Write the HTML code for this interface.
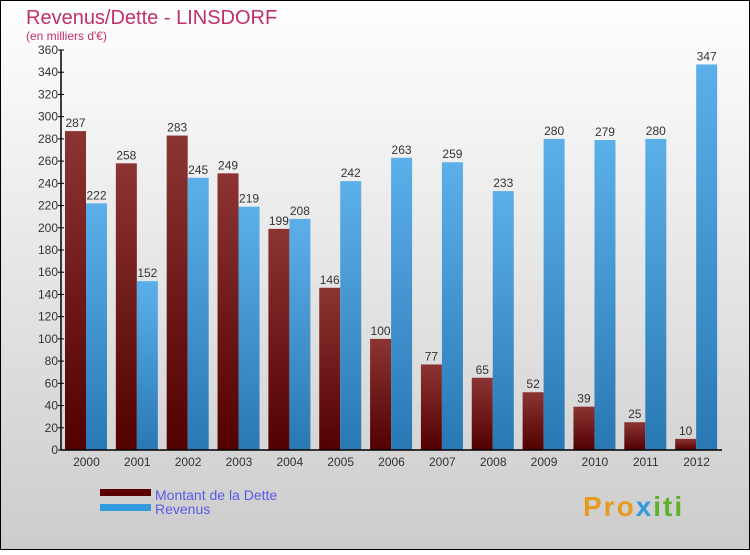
<!DOCTYPE html>
<html><head><meta charset="utf-8"><style>
html,body{margin:0;padding:0}
body{width:750px;height:550px;overflow:hidden;font-family:"Liberation Sans",sans-serif}
</style></head><body>
<svg id="chart" width="750" height="550" xmlns="http://www.w3.org/2000/svg">
<defs>
<linearGradient id="bg" x1="0" y1="0" x2="0" y2="1"><stop offset="0" stop-color="#ffffff"/><stop offset="1" stop-color="#cccccc"/></linearGradient>
<linearGradient id="gd" x1="0" y1="0" x2="0" y2="1"><stop offset="0" stop-color="#8c3434"/><stop offset="1" stop-color="#520000"/></linearGradient>
<linearGradient id="gr" x1="0" y1="0" x2="0" y2="1"><stop offset="0" stop-color="#5cb0ea"/><stop offset="1" stop-color="#2878b4"/></linearGradient>
</defs>
<rect x="0.5" y="0.5" width="749" height="549" fill="url(#bg)" stroke="#000"/>
<text x="26" y="24" font-size="20" fill="#c0306a">Revenus/Dette - LINSDORF</text>
<text x="26" y="40" font-size="12" fill="#c0306a">(en milliers d'€)</text>
<g id="plot"></g>
<g>
<rect x="100" y="489" width="51" height="7" fill="#5a0000"/>
<text x="155" y="500" font-size="14" fill="#5a5ae8">Montant de la Dette</text>
<rect x="100" y="504" width="51" height="7" fill="#3399dd"/>
<text x="155" y="514" font-size="14" fill="#5a5ae8">Revenus</text>
</g>
<text x="583" y="516" font-size="28" font-weight="bold" letter-spacing="2" fill="#e89a20">Pro<tspan fill="#3399dd">x</tspan><tspan fill="#60b030">iti</tspan></text>
</svg>
<script>
const years=["2000","2001","2002","2003","2004","2005","2006","2007","2008","2009","2010","2011","2012"];
const debt=[287,258,283,249,199,146,100,77,65,52,39,25,10];
const revenue=[222,152,245,219,208,242,263,259,233,280,279,280,347];
const yTicks=[0,20,40,60,80,100,120,140,160,180,200,220,240,260,280,300,320,340,360];
const NS="http://www.w3.org/2000/svg";
const g=document.getElementById('plot');
const x0=61,x1=722,yTop=50,yBot=450,yMax=360;
const y=v=>yBot-(v/yMax)*(yBot-yTop);
const gw=(x1-x0)/years.length;
const bx=i=>x0+i*gw;
function mk(t,a,txt){const e=document.createElementNS(NS,t);for(const k in a)e.setAttribute(k,a[k]);if(txt!==undefined)e.textContent=txt;g.appendChild(e);return e;}
years.forEach((yr,i)=>{
  const b=bx(i);
  let e=mk('rect',{x:b+4,y:y(debt[i]),width:21,height:yBot-y(debt[i]),fill:'url(#gd)'});
  
  
  e=mk('rect',{x:b+25,y:y(revenue[i]),width:21,height:yBot-y(revenue[i]),fill:'url(#gr)'});
  
  
  e=mk('text',{x:b+14.5,y:y(debt[i])-4,'font-size':12,fill:'#333','text-anchor':'middle'},String(debt[i]));
  
  
  e=mk('text',{x:b+35.5,y:y(revenue[i])-4,'font-size':12,fill:'#333','text-anchor':'middle'},String(revenue[i]));
  
  
  e=mk('text',{x:b+gw/2,y:466,'font-size':12,fill:'#333','text-anchor':'middle'},yr);
  
  
});
yTicks.forEach(t=>{
  let e=mk('line',{x1:x0-3,x2:x0+3,y1:y(t),y2:y(t),stroke:'#000'});
  
  
  e=mk('text',{x:x0-3,y:y(t)+4,'font-size':12,fill:'#333','text-anchor':'end'},String(t));
  
  
});
let ax=mk('line',{x1:x0,x2:x0,y1:yTop,y2:yBot,stroke:'#000','stroke-width':1.5});


ax=mk('line',{x1:x0,x2:x1,y1:yBot,y2:yBot,stroke:'#000','stroke-width':1.5});


</script>
</body></html>
